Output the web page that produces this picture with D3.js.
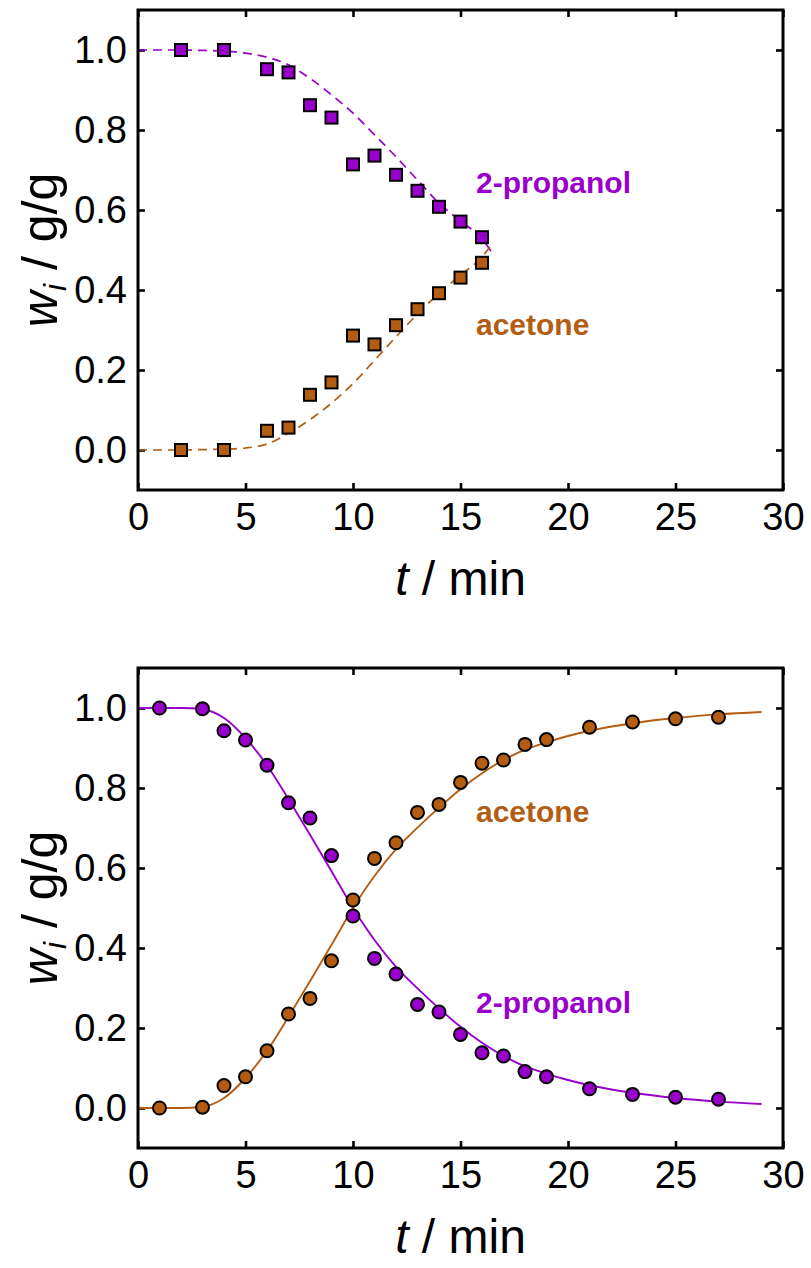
<!DOCTYPE html>
<html>
<head>
<meta charset="utf-8">
<script src="https://cdn.jsdelivr.net/npm/d3@7"></script>
<style>
  html, body { margin: 0; padding: 0; background: #fff; }
  svg { display: block; }
  text { font-family: "Liberation Sans", Arial, sans-serif; }
</style>
</head>
<body>
<svg id="chart" width="811" height="1268"></svg>
<script>
// ---- data -------------------------------------------------------------
const xTicks = [0, 5, 10, 15, 20, 25, 30];
const yTicks = [0.0, 0.2, 0.4, 0.6, 0.8, 1.0];

// upper panel: measured points (squares)
const topTime       = [2, 4, 6, 7, 8, 9, 10, 11, 12, 13, 14, 15, 16];
const topPropanol   = [1.0, 1.0, 0.952, 0.944, 0.862, 0.831, 0.714, 0.736, 0.688, 0.648, 0.608, 0.571, 0.532];
const topAcetone    = [0.0, 0.0, 0.048, 0.056, 0.138, 0.169, 0.286, 0.264, 0.312, 0.352, 0.392, 0.431, 0.468];

// upper panel: model curves (dashed)
const topFitTime     = [0, 1, 2, 3, 4, 5, 6, 7, 8, 9, 10, 11, 12, 13, 14, 15, 16, 16.5];
const topFitPropanol = [1.0, 1.0, 1.0, 0.999, 0.997, 0.992, 0.982, 0.963, 0.929, 0.888, 0.842, 0.788, 0.733, 0.675, 0.617, 0.572, 0.528, 0.49];
const topFitAcetone  = [0.0, 0.0, 0.0, 0.001, 0.002, 0.005, 0.015, 0.042, 0.076, 0.117, 0.166, 0.224, 0.283, 0.340, 0.392, 0.437, 0.483, 0.517];

// lower panel: measured points (circles)
const botTime       = [1, 3, 4, 5, 6, 7, 8, 9, 10, 11, 12, 13, 14, 15, 16, 17, 18, 19, 21, 23, 25, 27];
const botPropanol   = [1.0, 0.998, 0.943, 0.92, 0.857, 0.763, 0.725, 0.631, 0.48, 0.374, 0.335, 0.259, 0.24, 0.184, 0.138, 0.13, 0.091, 0.078, 0.048, 0.034, 0.027, 0.022];
const botAcetone    = [0.0, 0.002, 0.056, 0.078, 0.143, 0.235, 0.274, 0.368, 0.52, 0.624, 0.663, 0.739, 0.759, 0.814, 0.862, 0.87, 0.909, 0.921, 0.952, 0.965, 0.973, 0.977];

// lower panel: model curves (solid)
const botFitTime     = [0, 1, 2, 3, 4, 5, 6, 7, 8, 9, 10, 11, 12, 13, 14, 15, 16, 17, 18, 19, 20, 21, 23, 25, 27, 29];
const botFitPropanol = [1.0, 1.0, 1.0, 0.997, 0.975, 0.925, 0.857, 0.772, 0.683, 0.592, 0.5, 0.42, 0.353, 0.299, 0.249, 0.203, 0.163, 0.13, 0.104, 0.086, 0.07, 0.057, 0.038, 0.025, 0.016, 0.01];
const botFitAcetone  = [0.0, 0.0, 0.0, 0.003, 0.025, 0.075, 0.143, 0.228, 0.317, 0.408, 0.5, 0.58, 0.647, 0.701, 0.751, 0.797, 0.837, 0.87, 0.896, 0.914, 0.93, 0.943, 0.962, 0.975, 0.984, 0.99];

// ---- styling ----------------------------------------------------------
const PURPLE = "#9900cc";
const BROWN  = "#b35c12";

const svg = d3.select("#chart");
const plotLeft = 138, plotWidth = 645, plotHeight = 480;

const x = d3.scaleLinear().domain([0, 30]).range([plotLeft, plotLeft + plotWidth]);

function panel(top, opts) {
  const y = d3.scaleLinear().domain([-0.1, 1.1]).range([top + plotHeight, top]);
  const g = svg.append("g");

  // inward ticks on all four sides
  const tick = 7;
  const axB = g.append("g").attr("transform", `translate(0,${top + plotHeight})`)
    .call(d3.axisBottom(x).tickValues(xTicks).tickSize(-tick).tickPadding(13).tickFormat(d3.format("d")));
  const axT = g.append("g").attr("transform", `translate(0,${top})`)
    .call(d3.axisTop(x).tickValues(xTicks).tickSize(-tick).tickFormat(""));
  const axL = g.append("g").attr("transform", `translate(${plotLeft},0)`)
    .call(d3.axisLeft(y).tickValues(yTicks).tickSize(-tick).tickPadding(11).tickFormat(d3.format(".1f")));
  const axR = g.append("g").attr("transform", `translate(${plotLeft + plotWidth},0)`)
    .call(d3.axisRight(y).tickValues(yTicks).tickSize(-tick).tickFormat(""));
  [axB, axT, axL, axR].forEach(a => {
    a.select(".domain").remove();
    a.selectAll(".tick line").attr("stroke", "#000").attr("stroke-width", 2.6);
    a.selectAll(".tick text").attr("fill", "#000").style("font-size", "38px")
      .style("font-family", "'Liberation Sans', Arial, sans-serif");
  });
  axB.selectAll(".tick text").attr("dy", "0.71em");

  // curves
  const line = (ys) => d3.line().x((d, i) => x(opts.fitTime[i])).y(d => y(d)).curve(d3.curveMonotoneX)(ys);
  [[opts.fitPropanol, PURPLE], [opts.fitAcetone, BROWN]].forEach(([ys, c]) => {
    g.append("path").attr("d", line(ys)).attr("fill", "none").attr("stroke", c)
      .attr("stroke-width", opts.dashed ? 1.7 : 1.9)
      .attr("stroke-dasharray", opts.dashed ? "9,6" : null);
  });

  // markers
  [[opts.propanol, PURPLE], [opts.acetone, BROWN]].forEach(([ys, c]) => {
    const pts = ys.map((v, i) => [opts.time[i], v]);
    if (opts.square) {
      const s = 12;
      g.append("g").selectAll("rect").data(pts).join("rect")
        .attr("x", d => x(d[0]) - s / 2).attr("y", d => y(d[1]) - s / 2)
        .attr("width", s).attr("height", s)
        .attr("fill", c).attr("stroke", "#000").attr("stroke-width", 2);
    } else {
      g.append("g").selectAll("circle").data(pts).join("circle")
        .attr("cx", d => x(d[0])).attr("cy", d => y(d[1])).attr("r", 6.5)
        .attr("fill", c).attr("stroke", "#000").attr("stroke-width", 2);
    }
  });

  // frame
  g.append("rect").attr("x", plotLeft).attr("y", top).attr("width", plotWidth).attr("height", plotHeight)
    .attr("fill", "none").attr("stroke", "#000").attr("stroke-width", 3);

  // series labels
  opts.labels.forEach(l => {
    g.append("text").attr("x", l.x).attr("y", l.y).text(l.text)
      .attr("fill", l.color).style("font-size", "30px").style("font-weight", "bold");
  });

  // axis titles
  const xt = g.append("text").attr("x", plotLeft + plotWidth / 2).attr("y", top + plotHeight + 105)
    .attr("text-anchor", "middle").style("font-size", "48px").attr("fill", "#000");
  xt.append("tspan").style("font-style", "italic").text("t");
  xt.append("tspan").text(" / min");

  const yt = g.append("text")
    .attr("transform", `translate(57,${top + plotHeight / 2}) rotate(-90)`)
    .attr("text-anchor", "middle").style("font-size", "50px").attr("fill", "#000");
  yt.append("tspan").style("font-style", "italic").text("w");
  yt.append("tspan").style("font-style", "italic").style("font-size", "32px").attr("dy", "9").text("i");
  yt.append("tspan").attr("dy", "-9").text(" / g/g");
}

panel(10, {
  square: true, dashed: true,
  time: topTime, propanol: topPropanol, acetone: topAcetone,
  fitTime: topFitTime, fitPropanol: topFitPropanol, fitAcetone: topFitAcetone,
  labels: [
    { text: "2-propanol", x: 476, y: 193, color: PURPLE },
    { text: "acetone", x: 476, y: 335, color: BROWN }
  ]
});

panel(668, {
  square: false, dashed: false,
  time: botTime, propanol: botPropanol, acetone: botAcetone,
  fitTime: botFitTime, fitPropanol: botFitPropanol, fitAcetone: botFitAcetone,
  labels: [
    { text: "acetone", x: 476, y: 822, color: BROWN },
    { text: "2-propanol", x: 476, y: 1013, color: PURPLE }
  ]
});
</script>
</body>
</html>
